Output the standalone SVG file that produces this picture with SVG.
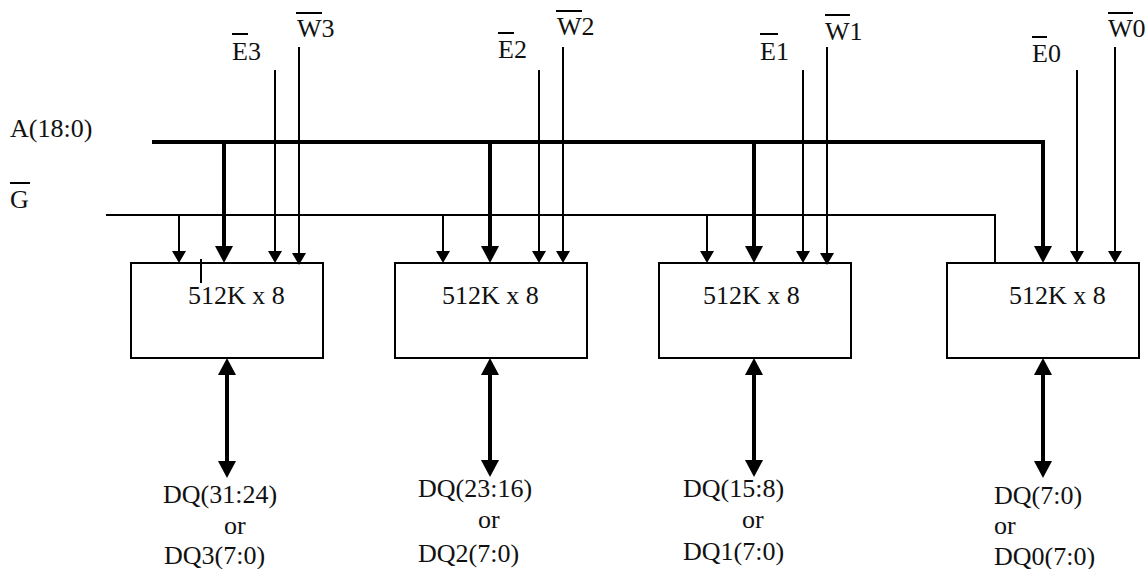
<svg xmlns="http://www.w3.org/2000/svg" width="1148" height="569" viewBox="0 0 1148 569">
<style>
text{font-family:'Liberation Serif','DejaVu Serif',serif;font-size:26px;fill:#111}
.box{fill:#fff;stroke:#000;stroke-width:2}
.thin{fill:none;stroke:#000;stroke-width:2}
.thick{fill:none;stroke:#000;stroke-width:4;stroke-linejoin:miter}
.bar{stroke:#000;stroke-width:2}
.sa{marker-end:url(#sm)}
.ba{marker-end:url(#bg)}
.bd{marker-start:url(#bg);marker-end:url(#bg)}
</style>
<defs>
<marker id="bg" viewBox="0 -10 20 20" markerWidth="20" markerHeight="20" refX="0" refY="0" orient="auto-start-reverse" markerUnits="userSpaceOnUse"><path d="M0,-9 L17,0 L0,9 Z" fill="#000"/></marker>
<marker id="sm" viewBox="0 -10 20 20" markerWidth="20" markerHeight="20" refX="0" refY="0" orient="auto" markerUnits="userSpaceOnUse"><path d="M0,-7 L12,0 L0,7 Z" fill="#000"/></marker>
</defs>
<rect width="1148" height="569" fill="#fff"/>
<g id="n3"><rect class="box" x="131" y="263" width="192" height="95"/><text x="188" y="304" font-family="Liberation Serif, serif">512K x 8</text></g>
<g id="n2"><rect class="box" x="395" y="263" width="192" height="95"/><text x="442" y="304" font-family="Liberation Serif, serif">512K x 8</text></g>
<g id="n1"><rect class="box" x="659" y="263" width="192" height="95"/><text x="703" y="304" font-family="Liberation Serif, serif">512K x 8</text></g>
<g id="n0"><rect class="box" x="947" y="263" width="192" height="95"/><text x="1009" y="304" font-family="Liberation Serif, serif">512K x 8</text></g>
<g id="connectors">
<path class="thick ba" d="M152,142 H1043 V246"/>
<path class="thick ba" d="M224,142 V246"/>
<path class="thick ba" d="M490,142 V246"/>
<path class="thick ba" d="M754,142 V246"/>
<path class="thin" d="M106,215 H995 V263"/>
<path class="thin sa" d="M179,215 V251"/>
<path class="thin sa" d="M443,215 V251"/>
<path class="thin sa" d="M707,215 V251"/>
<path class="thin sa" d="M275,70 V251"/>
<path class="thin sa" d="M539,70 V251"/>
<path class="thin sa" d="M803,70 V251"/>
<path class="thin sa" d="M1077,70 V251"/>
<path class="thin sa" d="M299,47 V253"/>
<path class="thin sa" d="M563,47 V251"/>
<path class="thin sa" d="M827,47 V253"/>
<path class="thin sa" d="M1115,47 V251"/>
<path class="thin" d="M201,259 V283"/>
<path class="thick bd" d="M227,375 V461"/>
<path class="thick bd" d="M490,375 V460"/>
<path class="thick bd" d="M754,375 V460"/>
<path class="thick bd" d="M1043,375 V461"/>
</g>
<g id="labels" font-family="Liberation Serif, serif">
<text x="10" y="137">A(18:0)</text>
<text x="10" y="208">G</text><line class="bar" x1="10" y1="183" x2="30" y2="183"/>
<text x="232" y="60">E3</text><line class="bar" x1="232" y1="34" x2="248" y2="34"/>
<text x="297" y="37">W3</text><line class="bar" x1="296" y1="13" x2="322" y2="13"/>
<text x="498" y="58">E2</text><line class="bar" x1="498" y1="33" x2="514" y2="33"/>
<text x="557" y="35">W2</text><line class="bar" x1="556" y1="11" x2="582" y2="11"/>
<text x="760" y="60">E1</text><line class="bar" x1="760" y1="34" x2="778" y2="34"/>
<text x="825" y="40">W1</text><line class="bar" x1="825" y1="15" x2="850" y2="15"/>
<text x="1032" y="62">E0</text><line class="bar" x1="1032" y1="37" x2="1047" y2="37"/>
<text x="1108" y="37">W0</text><line class="bar" x1="1108" y1="13" x2="1133" y2="13"/>
<text x="163" y="503">DQ(31:24)</text>
<text x="224" y="534">or</text>
<text x="164" y="564">DQ3(7:0)</text>
<text x="418" y="497">DQ(23:16)</text>
<text x="478" y="528">or</text>
<text x="418" y="562">DQ2(7:0)</text>
<text x="683" y="497">DQ(15:8)</text>
<text x="742" y="528">or</text>
<text x="683" y="560">DQ1(7:0)</text>
<text x="994" y="504">DQ(7:0)</text>
<text x="994" y="534">or</text>
<text x="994" y="565">DQ0(7:0)</text>
</g>
</svg>
